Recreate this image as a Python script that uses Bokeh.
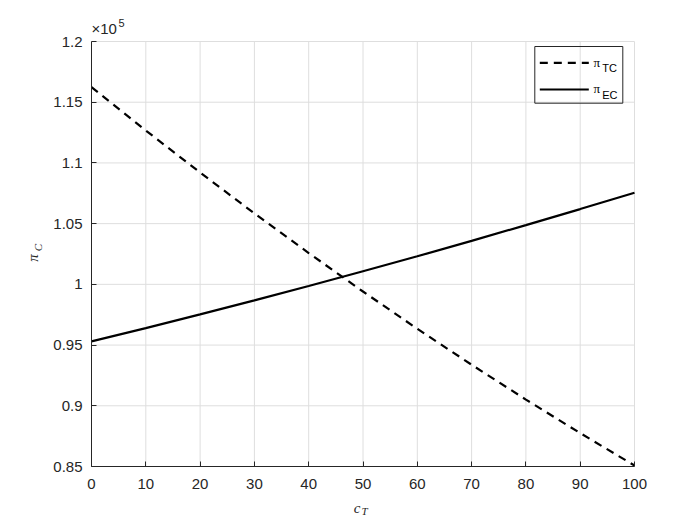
import math
from bokeh.plotting import figure
from bokeh.models import FixedTicker, CustomJSTickFormatter, Label, Range1d
from bokeh.embed import file_html
from bokeh.resources import INLINE

# data
c_T = [0, 10, 20, 30, 40, 50, 60, 70, 80, 90, 100]
pi_TC = [116240, 112670, 109210, 105840, 102580, 99410, 96340, 93380, 90510, 87750, 85080]
pi_EC = [95300, 96400, 97530, 98680, 99860, 101080, 102310, 103580, 104880, 106200, 107550]
x_ticks = [0, 10, 20, 30, 40, 50, 60, 70, 80, 90, 100]
y_ticks = [85000, 90000, 95000, 100000, 105000, 110000, 115000, 120000]

X0, X1 = 0, 100
Y0, Y1 = 85000, 120000

# layout (pixels): axes box inside the 700x525 canvas
W, H = 700, 525
BL, BR, BT, BB = 91, 634, 41, 466
sx = (BR - BL) / (X1 - X0)
sy = (BB - BT) / (Y1 - Y0)
xr = Range1d(X0 - BL / sx, X1 + (W - BR) / sx)
yr = Range1d(Y0 - (H - BB) / sy, Y1 + BT / sy)

def dx(px):
    return X0 + (px - BL) / sx

def dy(py):
    return Y1 - (py - BT) / sy

TXT = "#262626"
FONT = "Liberation Sans"
SERIF = "Liberation Serif"

p = figure(frame_width=W, frame_height=H, output_backend="svg", toolbar_location=None,
           x_range=xr, y_range=yr, min_border=0)
p.outline_line_color = None
p.background_fill_color = "white"
p.border_fill_color = "white"
p.grid.visible = False

# grid lines at the tick positions
n_x, n_y = len(x_ticks), len(y_ticks)
p.segment(x0=x_ticks, y0=[Y0] * n_x, x1=x_ticks, y1=[Y1] * n_x, line_color="#dedede", line_width=1)
p.segment(x0=[X0] * n_y, y0=y_ticks, x1=[X1] * n_y, y1=y_ticks, line_color="#dedede", line_width=1)

for ax in (p.xaxis[0], p.yaxis[0]):
    ax.major_tick_in = 5
    ax.major_tick_out = 0
    ax.minor_tick_line_color = None
    ax.axis_line_color = TXT
    ax.major_tick_line_color = TXT
    ax.major_label_text_color = TXT
    ax.major_label_text_font = FONT
    ax.major_label_text_font_size = "15px"

p.xaxis.fixed_location = Y0
p.xaxis.bounds = (X0, X1)
p.yaxis.fixed_location = X0
p.yaxis.bounds = (Y0, Y1)
p.xaxis.ticker = FixedTicker(ticks=x_ticks)
p.yaxis.ticker = FixedTicker(ticks=y_ticks)
p.yaxis.formatter = CustomJSTickFormatter(code="return String(+(tick/1e5).toFixed(2));")
p.xaxis.major_label_standoff = 12
p.yaxis.major_label_standoff = 9

LW = 2.2
DASH = "8 6"
p.line(c_T, pi_TC, line_color="black", line_width=LW, line_dash=DASH)
p.line(c_T, pi_EC, line_color="black", line_width=LW)

# legend
lx0, lx1, ly0, ly1 = dx(534.3), dx(622.3), dy(102.7), dy(46)
p.line([lx0, lx1, lx1, lx0, lx0], [ly1, ly1, ly0, ly0, ly1], line_color=TXT, line_width=1)
for py, sub, dash in ((62.3, "TC", DASH), (89.0, "EC", "solid")):
    p.line([dx(539.3), dx(588.3)], [dy(py), dy(py)], line_color="black", line_width=LW, line_dash=dash)
    p.add_layout(Label(x=dx(596.3), y=dy(py - 0.6), text="π", text_font=SERIF, text_font_size="13px",
                       text_color="black", text_align="center", text_baseline="middle"))
    p.add_layout(Label(x=dx(601.7), y=dy(py + 5.5), text=sub, text_font=FONT, text_font_size="11px",
                       text_color="black", text_align="left", text_baseline="middle"))

# exponent
p.add_layout(Label(x=dx(91), y=dy(28), text="×10", text_font=FONT, text_font_size="15px",
                   text_color=TXT, text_align="left", text_baseline="alphabetic"))
p.add_layout(Label(x=dx(118), y=dy(22), text="5", text_font=FONT, text_font_size="11px",
                   text_color=TXT, text_align="left", text_baseline="alphabetic"))

# x-axis label c_T
p.add_layout(Label(x=dx(356.5), y=dy(507.5), text="c", text_font=SERIF, text_font_style="italic",
                   text_font_size="15px", text_color=TXT, text_align="center", text_baseline="middle"))
p.add_layout(Label(x=dx(364), y=dy(510.5), text="T", text_font=SERIF, text_font_style="italic",
                   text_font_size="11px", text_color=TXT, text_align="center", text_baseline="middle"))

# y-axis label pi_C (rotated)
p.add_layout(Label(x=dx(32.5), y=dy(257.5), text="π", text_font=SERIF, text_font_style="italic",
                   text_font_size="15px", text_color=TXT, text_align="center", text_baseline="middle",
                   angle=math.pi / 2))
p.add_layout(Label(x=dx(37.5), y=dy(247), text="C", text_font=SERIF, text_font_style="italic",
                   text_font_size="11px", text_color=TXT, text_align="center", text_baseline="middle",
                   angle=math.pi / 2))

open("out.html", "w").write(file_html(p, INLINE))
